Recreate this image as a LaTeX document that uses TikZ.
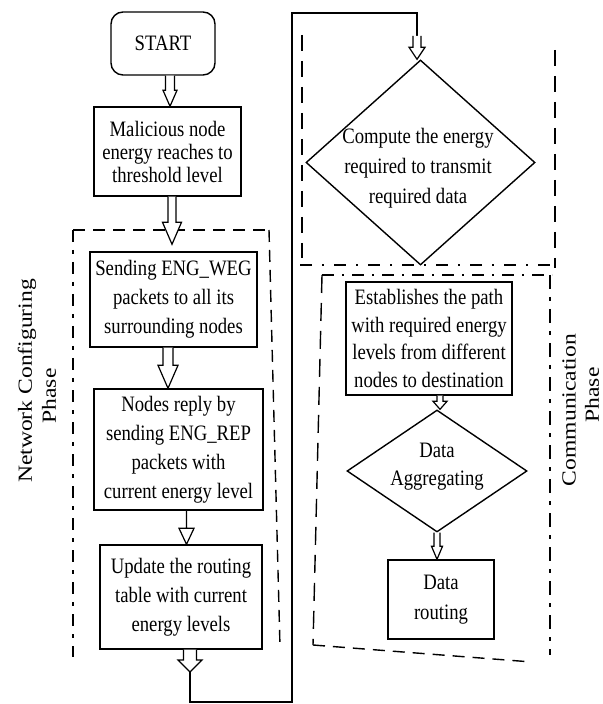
\documentclass[tikz,border=0pt]{standalone}
\usepackage{fontspec}
\setmainfont{Liberation Serif}[FakeStretch=0.85]
\newfontfamily\phasefont{Liberation Serif}[FakeStretch=1.18]
\usetikzlibrary{shapes.geometric,calc}

% hollow block arrow: #1 start point (gives x), #2 end point (gives y of the tip),
% #3 half shaft width, #4 half head width, #5 head length
\newcommand\blockarrow[5]{%
  \draw[barrow] let \p1=#1, \p2=#2 in
    (\x1-#3,\y1) -- (\x1-#3,\y2+#5) -- (\x1-#4,\y2+#5) -- (\x1,\y2)
    -- (\x1+#4,\y2+#5) -- (\x1+#3,\y2+#5) -- (\x1+#3,\y1);}

\begin{document}
\begin{tikzpicture}[x=0.5pt,y=-0.5pt,
  box/.style={draw, line width=0.7pt, align=center, inner sep=0pt,
              font=\fontsize{11}{14.5}\selectfont},
  dia/.style={draw, diamond, line width=0.7pt, inner sep=0pt},
  txt/.style={align=center, inner sep=0pt, font=\fontsize{11}{14.5}\selectfont},
  phase/.style={rotate=90, align=center, inner sep=0pt,
                font=\phasefont\fontsize{10}{12}\selectfont},
  barrow/.style={draw, line width=0.6pt, fill=white, line join=miter},
  loopline/.style={draw, line width=0.7pt},
  frame/.style={draw, line width=0.7pt, dash pattern=on 6pt off 4pt},
]
\useasboundingbox (0,0) rectangle (602,704);

% ---------- phase frames ----------
% network configuring phase
\draw[frame] (73,230) -- (268,230);
\draw[frame, dash pattern=on 6pt off 4pt on 2pt off 4pt] (73,230) -- (73,657);
\draw[frame] (269,230) -- (280,647);
% energy computation
\draw[frame, dash pattern=on 8pt off 5pt] (302,35) -- (302,258);
\draw[frame, dash pattern=on 8pt off 5pt] (555,50) -- (555,268);
\draw[frame, dash pattern=on 6pt off 5pt on 1pt off 5pt] (300,265) -- (558,265);
% communication phase
\draw[frame, dash pattern=on 6pt off 4pt on 1pt off 4pt] (322,275) -- (552,275);
\draw[frame, dash pattern=on 9pt off 5pt] (322,275) -- (313,645);
\draw[frame] (313,645) -- (532,662);
\draw[frame, dash pattern=on 7pt off 4pt on 2pt off 4pt] (550,275) -- (550,655);

% ---------- phase labels ----------
\node[phase] (netlbl) at (27,381) {Network Configuring};
\node[phase] (netlbl2) at (49,396) {Phase};
\node[phase] (comlbl) at (569,410) {Communication};
\node[phase] (comlbl2) at (592,395) {Phase};

% ---------- left column ----------
\node[box, rounded corners=6pt, minimum width=52pt, minimum height=31.5pt]
  (start) at (163,43.5) {START};
\node[box, font=\fontsize{11}{11.5}\selectfont, minimum width=73.5pt, minimum height=44.5pt]
  (mal) at (167.5,151.5) {Malicious node\\energy reaches to\\threshold level};
\node[box, minimum width=83.5pt, minimum height=47.5pt]
  (send) at (173.5,299.5) {Sending ENG\_WEG\\packets to all its\\surrounding nodes};
\node[box, minimum width=84.5pt, minimum height=60.5pt]
  (reply) at (178.5,449.5) {Nodes reply by\\sending ENG\_REP\\packets with\\current energy level};
\node[box, minimum width=81pt, minimum height=52pt]
  (upd) at (181,597) {Update the routing\\table with current\\energy levels};

% ---------- right column ----------
\node[dia, minimum width=114.5pt, minimum height=102.5pt] (comp) at (420.5,162.5) {};
\node[txt, font=\fontsize{11}{15}\selectfont] (comptxt) at (418,168)
  {Compute the energy\\required to transmit\\required data};
\node[box, font=\fontsize{11}{13.9}\selectfont, minimum width=83pt, minimum height=56.5pt]
  (est) at (429,338.5) {Establishes the path\\with required energy\\levels from different\\nodes to destination};
\node[dia, minimum width=90pt, minimum height=61pt] (agg) at (437,471) {};
\node[txt, font=\fontsize{11}{14}\selectfont] (aggtxt) at (437,467) {Data\\Aggregating};
\node[box, font=\fontsize{11}{15}\selectfont, minimum width=53pt, minimum height=39.5pt]
  (route) at (441,599.5) {Data\\routing};

% ---------- connectors ----------
\blockarrow{([xshift=3.5pt]start.south)}{(mal.north)}{2.25pt}{3.5pt}{8pt}
\blockarrow{([xshift=2.25pt]mal.south)}{([yshift=3.5pt]send.north)}{2pt}{4.75pt}{11pt}
\blockarrow{([xshift=-2.75pt]send.south)}{(reply.north)}{2.5pt}{5pt}{11.5pt}
\blockarrow{([xshift=4pt]reply.south)}{(upd.north)}{0pt}{3.75pt}{8pt}
\blockarrow{([xshift=5.5pt]est.south)}{(agg.north)}{1.5pt}{3.5pt}{4pt}
\blockarrow{(agg.south)}{(route.north)}{1.5pt}{2.75pt}{6.5pt}

% loop from the last configuring step up to the energy computation
\coordinate (loopa) at (190,672);
\coordinate (loopb) at (190,702);
\coordinate (loopc) at (292,702);
\coordinate (loopd) at (292,13);
\coordinate (loope) at (417,13);
\coordinate (loopf) at (417,36);
\blockarrow{([xshift=4.5pt]upd.south)}{(loopa)}{3.25pt}{6pt}{6pt}
\draw[loopline] (loopa) -- (loopb) -- (loopc) -- (loopd) -- (loope) -- (loopf);
\blockarrow{(loopf)}{(comp.north)}{2pt}{4pt}{6pt}
\end{tikzpicture}
\end{document}
